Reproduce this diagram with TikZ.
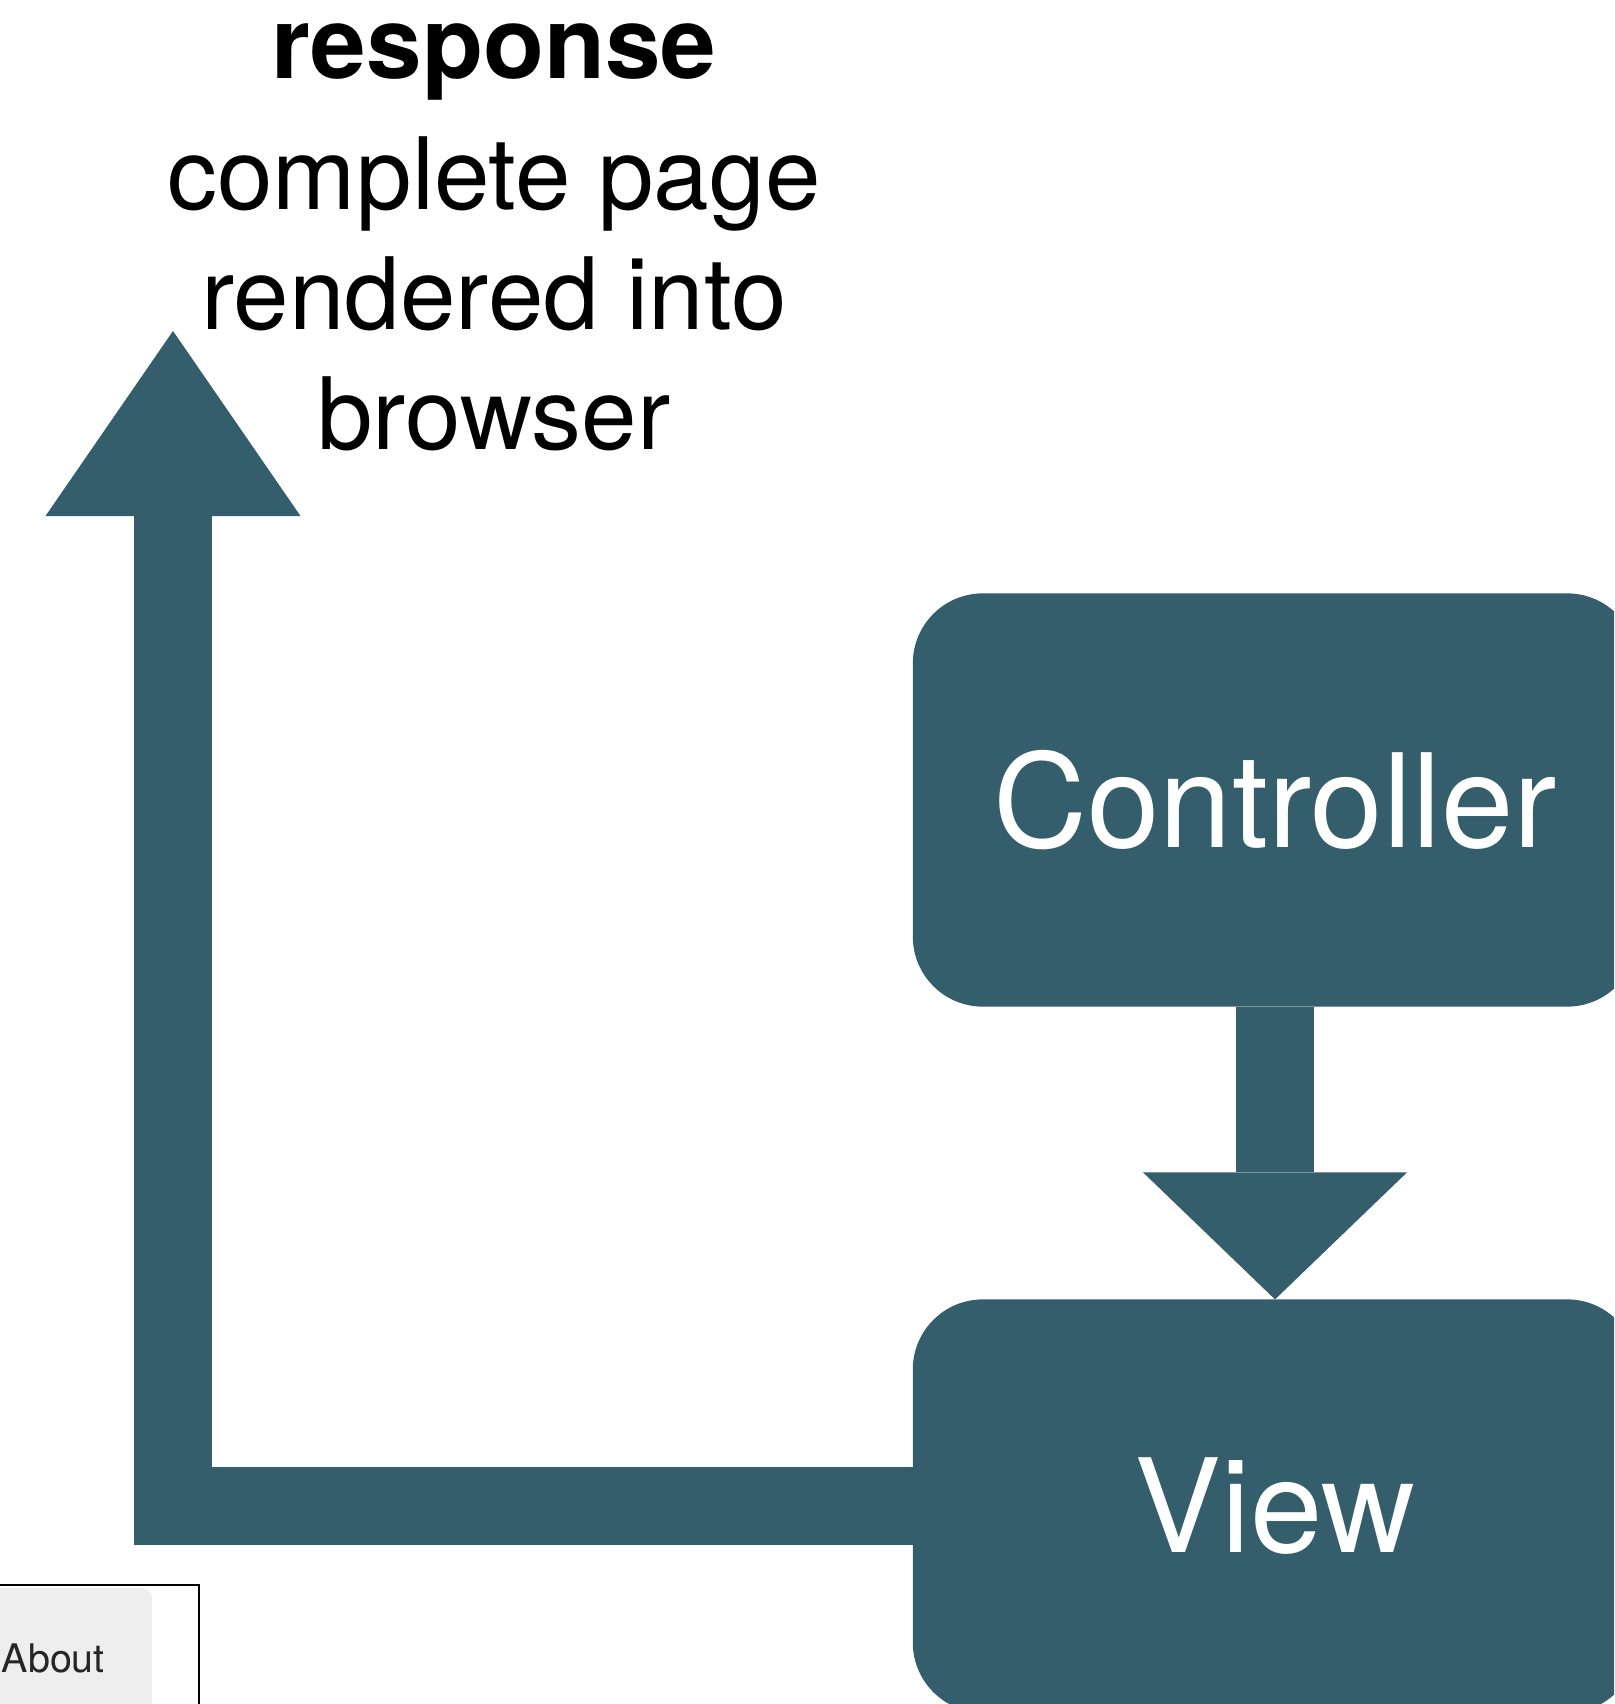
\documentclass[tikz,border=0pt]{standalone}
\usepackage{fontspec}
\setmainfont{TeX Gyre Heros}
\usetikzlibrary{arrows.meta}
\definecolor{mvcblue}{RGB}{52,94,107}
\definecolor{tabgray}{RGB}{238,238,238}

\begin{document}
\begin{tikzpicture}[x=0.01cm, y=-0.01cm,
    box/.style={rectangle, rounded corners=0.7cm, fill=mvcblue, text=white,
        minimum width=7.24cm, minimum height=4.13cm, inner sep=0pt, outer sep=0pt,
        font=\fontsize{37}{44}\selectfont},
    fat/.style={draw=mvcblue, line width=0.78cm, line join=miter}]
        \clip (0, 0) rectangle (1614, 1704);
        \node[box] (Ctrl) at (1275, 800) {Controller};
        \node[box] (View) at (1275, 1506) {View};
        \coordinate (Top) at (173, 331);
        \node[align=center, inner sep=0pt, anchor=base,
            font=\fontsize{28.4}{34.2}\selectfont] (Resp) at (494, 450)
            {\textbf{response}\\[3pt]complete page\\rendered into\\browser};
        \draw[fat, -{Triangle[length=1.27cm, width=2.64cm, line width=0pt]}] (Ctrl) -- (View);
        \draw[fat, -{Triangle[length=1.85cm, width=2.55cm, line width=0pt]}] (View) -| (Top);
        \node[draw=black, line width=0.6pt, anchor=north west, inner sep=0pt, outer sep=0pt,
            minimum width=2.09cm, minimum height=1.4cm] (Frame) at (-10, 1585) {};
        \node[fill=tabgray, rounded corners=3pt, anchor=north west, inner sep=0pt, outer sep=0pt,
            minimum width=1.62cm, minimum height=1.4cm] (Tab) at (-10, 1588) {};
        \node[anchor=base west, inner sep=0pt, text=black!85,
            font=\fontsize{11.2}{13}\selectfont] (About) at (1, 1672) {About};
\end{tikzpicture}
\end{document}
